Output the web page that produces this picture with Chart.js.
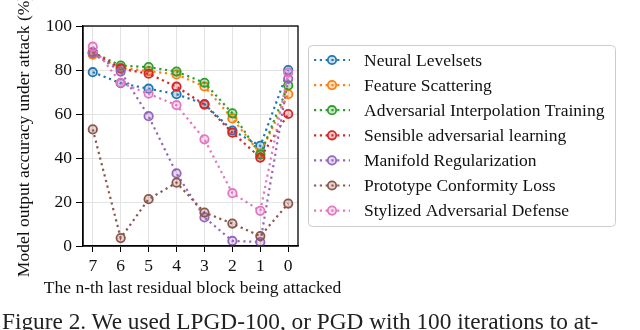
<!DOCTYPE html>
<html>
<head>
<meta charset="utf-8">
<script src="https://cdn.jsdelivr.net/npm/chart.js@4.4.1/dist/chart.umd.min.js"></script>
<style>
  html, body { margin: 0; padding: 0; background: #fff; overflow: hidden; }
  #wrap { position: relative; width: 640px; height: 330px; overflow: hidden; }
  #chart { position: absolute; left: 0; top: 0; }
  #caption {
    position: absolute; left: 2px; top: 308px; white-space: nowrap;
    font-family: "Liberation Serif", serif; font-size: 23.3px; color: #222;
  }
</style>
</head>
<body>
<div id="wrap">
  <canvas id="chart" width="640" height="330"></canvas>
  <div id="caption">Figure 2. We used LPGD-100, or PGD with 100 iterations to at-</div>
</div>
<script>
const blocks = [7, 6, 5, 4, 3, 2, 1, 0];
const yTicks = [0, 20, 40, 60, 80, 100];
const xTitle = "The n-th last residual block being attacked";
const yTitle = "Model output accuracy under attack (%)";

const names = [
  "Neural Levelsets",
  "Feature Scattering",
  "Adversarial Interpolation Training",
  "Sensible adversarial learning",
  "Manifold Regularization",
  "Prototype Conformity Loss",
  "Stylized Adversarial Defense"
];
const colors = ["#1f77b4", "#ff7f0e", "#2ca02c", "#d62728", "#9467bd", "#8c564b", "#e377c2"];

// accuracy (%) for blocks 7..0
const neuralLevelsets = [79, 74, 71.5, 69, 64.5, 52.5, 45.5, 80];
const featureScattering = [87, 81, 79.5, 78, 72.5, 58, 42, 69];
const advInterpolation = [88, 82, 81.3, 79.3, 74.2, 60.3, 41.5, 73];
const sensibleAdv = [88, 80.6, 78.3, 72.4, 64.3, 51.5, 40.2, 60];
const manifoldReg = [87.7, 79.3, 59, 33, 13, 2.3, 1.8, 76];
const prototypeConf = [53, 3.6, 21.3, 28.8, 15.2, 10.2, 4.5, 19.3];
const stylizedAdv = [90.6, 74.2, 69.2, 64, 48.5, 24, 16, 78.8];

const series = [neuralLevelsets, featureScattering, advInterpolation, sensibleAdv,
                manifoldReg, prototypeConf, stylizedAdv];

const serif = "'Liberation Serif', 'Times New Roman', serif";

function alpha(hex, a) {
  const n = parseInt(hex.slice(1), 16);
  return `rgba(${n >> 16}, ${(n >> 8) & 255}, ${n & 255}, ${a})`;
}

const datasets = series.map((vals, i) => ({
  label: names[i],
  data: blocks.map((b, j) => ({ x: b, y: vals[j] })),
  borderColor: colors[i],
  backgroundColor: alpha(colors[i], 0.25),
  borderWidth: 2.2,
  borderDash: [2.2, 3.6],
  pointRadius: 4.2,
  pointBorderWidth: 1.8,
  pointBorderColor: colors[i],
  pointBackgroundColor: alpha(colors[i], 0.25),
  tension: 0,
  order: series.length - i
}));

// black frame round the plot area
const framePlugin = {
  id: "frame",
  afterDatasetsDraw(chart) {
    const { ctx, chartArea: a } = chart;
    ctx.save();
    ctx.strokeStyle = "#000";
    ctx.lineWidth = 1.3;
    ctx.strokeRect(a.left, a.top, a.right - a.left, a.bottom - a.top);
    ctx.restore();
  }
};

// x title is wider than the plot, so it is drawn here without a width limit
const xTitlePlugin = {
  id: "xTitle",
  afterDraw(chart) {
    const { ctx, chartArea: a } = chart;
    ctx.save();
    ctx.font = "17.5px " + serif;
    ctx.fillStyle = "#111";
    ctx.textAlign = "center";
    ctx.textBaseline = "middle";
    ctx.fillText(xTitle, (a.left + a.right) / 2 + 2, 288);
    ctx.restore();
  }
};

// legend box on the right
const legendPlugin = {
  id: "boxLegend",
  afterDraw(chart) {
    const ctx = chart.ctx;
    const x0 = 308, y0 = 45, w = 307, h = 181;
    ctx.save();
    ctx.fillStyle = "#fff";
    ctx.strokeStyle = "#cccccc";
    ctx.lineWidth = 1;
    ctx.beginPath();
    ctx.roundRect(x0 + 0.5, y0 + 0.5, w, h, 4);
    ctx.fill();
    ctx.stroke();
    ctx.font = "17.5px " + serif;
    ctx.textBaseline = "middle";
    chart.data.datasets.forEach((ds, i) => {
      const y = 60 + i * 25.1;
      ctx.strokeStyle = ds.borderColor;
      ctx.lineWidth = 2.2;
      ctx.setLineDash([2.2, 3.6]);
      ctx.beginPath();
      ctx.moveTo(314, y);
      ctx.lineTo(350, y);
      ctx.stroke();
      ctx.setLineDash([]);
      ctx.beginPath();
      ctx.arc(332, y, 4.2, 0, Math.PI * 2);
      ctx.fillStyle = ds.pointBackgroundColor;
      ctx.fill();
      ctx.lineWidth = 1.8;
      ctx.stroke();
      ctx.fillStyle = "#111";
      ctx.fillText(ds.label, 364, y + 1);
    });
    ctx.restore();
  }
};

new Chart(document.getElementById("chart"), {
  type: "line",
  data: { datasets },
  plugins: [framePlugin, xTitlePlugin, legendPlugin],
  options: {
    responsive: false,
    animation: false,
    layout: { padding: { left: 14, top: 26, right: 342, bottom: 31 } },
    plugins: { legend: { display: false }, tooltip: { enabled: false } },
    scales: {
      x: {
        type: "linear",
        reverse: true,
        min: -0.35,
        max: 7.35,
        afterBuildTicks: s => { s.ticks = blocks.map(v => ({ value: v })); },
        afterFit: s => { s.height = 53; },
        grid: { color: "#e3e3e3", lineWidth: 1, tickColor: "#000", tickLength: 6, drawTicks: true },
        border: { display: true, color: "#000", width: 1.3 },
        ticks: { color: "#111", font: { family: serif, size: 17.5 }, padding: 4, maxRotation: 0 }
      },
      y: {
        min: 0,
        max: 100,
        afterBuildTicks: s => { s.ticks = yTicks.map(v => ({ value: v })); },
        afterFit: s => { s.width = 69; },
        grid: { color: "#e3e3e3", lineWidth: 1, tickColor: "#000", tickLength: 7, drawTicks: true },
        border: { display: true, color: "#000", width: 1.3 },
        ticks: { color: "#111", font: { family: serif, size: 17.5 }, padding: 4 },
        title: {
          display: true,
          text: yTitle,
          color: "#111",
          font: { family: serif, size: 17.5 },
          padding: 0
        }
      }
    }
  }
});
</script>
</body>
</html>
